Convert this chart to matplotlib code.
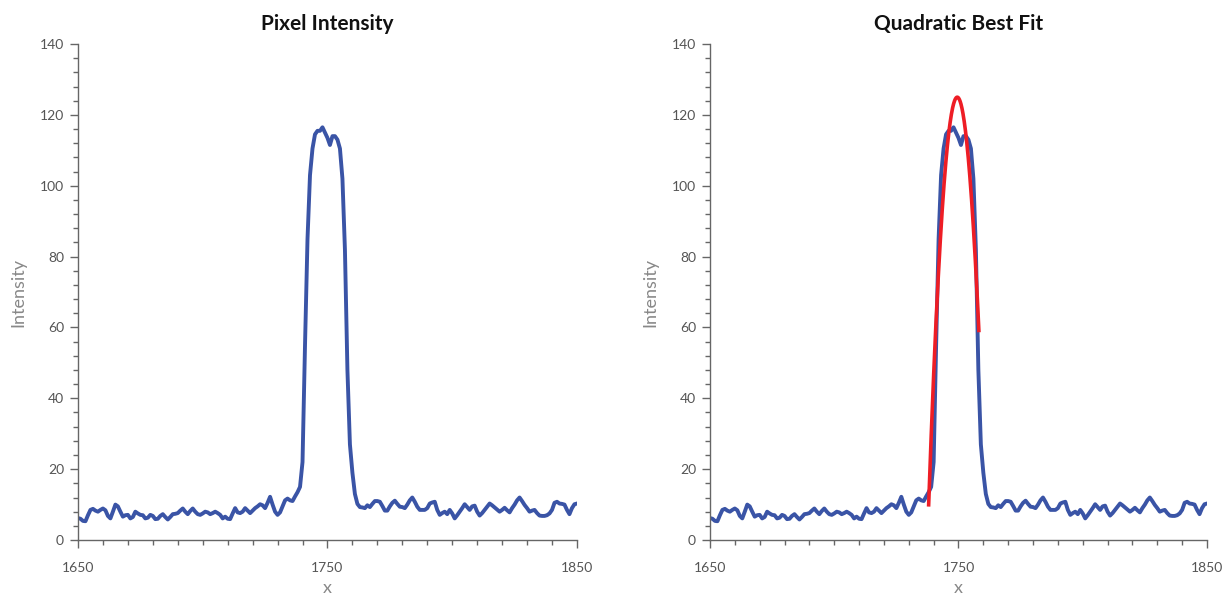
import numpy as np
import matplotlib
matplotlib.use("Agg")
import matplotlib.pyplot as plt
from matplotlib.ticker import MultipleLocator, FixedLocator

# pixel position along the row and intensity
x = np.arange(1650, 1851)
intensity = [
    6.2, 6.0, 5.4, 5.3, 7.0, 8.5, 8.8, 8.3, 8.0, 8.5,
    8.9, 8.4, 6.8, 6.1, 8.0, 10.0, 9.5, 8.0, 6.6, 7.0,
    7.1, 6.1, 6.5, 8.0, 7.5, 7.1, 7.0, 6.1, 6.3, 7.1,
    6.8, 5.9, 6.0, 6.8, 7.3, 6.5, 5.8, 6.5, 7.3, 7.4,
    7.6, 8.3, 8.9, 8.0, 7.3, 8.2, 8.9, 8.0, 7.3, 7.1,
    7.5, 8.0, 7.8, 7.3, 7.6, 8.0, 7.6, 7.1, 6.1, 6.6,
    6.0, 5.9, 7.5, 9.0, 7.8, 7.6, 8.0, 9.0, 8.3, 7.6,
    8.3, 9.0, 9.5, 10.1, 9.8, 9.0, 10.5, 12.2, 10.0, 8.0,
    7.1, 7.8, 9.5, 11.2, 11.7, 11.2, 11.0, 12.3, 13.5, 15.0,
    22.0, 55.0, 85.0, 103.0, 110.5, 114.5, 115.5, 115.5, 116.5, 115.0,
    113.5, 111.5, 114.0, 114.0, 113.0, 110.5, 102.0, 82.0, 48.0, 27.0,
    19.0, 13.0, 10.2, 9.3, 9.2, 9.0, 9.8, 9.3, 10.2, 11.0,
    11.0, 10.8, 9.6, 8.3, 8.3, 9.5, 10.5, 11.1, 10.2, 9.4,
    9.3, 9.0, 10.0, 11.2, 12.0, 10.8, 9.4, 8.5, 8.5, 8.5,
    9.0, 10.3, 10.6, 10.8, 8.5, 7.1, 7.6, 8.0, 7.3, 8.5,
    7.5, 6.1, 7.0, 8.0, 9.0, 10.1, 9.3, 8.5, 9.5, 9.7,
    8.0, 6.9, 7.6, 8.5, 9.4, 10.3, 9.8, 9.2, 8.6, 8.0,
    8.5, 9.1, 8.4, 7.8, 9.0, 10.0, 11.2, 12.0, 11.0, 9.9,
    9.0, 8.0, 8.3, 8.5, 7.6, 6.9, 6.8, 6.8, 7.0, 7.5,
    8.5, 10.5, 10.8, 10.3, 10.2, 10.0, 8.5, 7.3, 9.0, 10.1,
    10.3,
]
x_ticks = [1650, 1750, 1850]

# quadratic: peak position, peak height, curvature
fit_start, fit_end = 1738, 1758.2
fit_peak_x, fit_peak_y, fit_curv = 1749.5, 125.0, 0.87

BLUE = "#3a54a6"
RED = "#ee1d25"
AXIS = "#666666"

plt.rcParams['font.family'] = ['Lato', 'DejaVu Sans']


def style_axes(ax, title):
    ax.set_xlim(1650, 1850)
    ax.set_ylim(0, 140)
    ax.spines['top'].set_visible(False)
    ax.spines['right'].set_visible(False)
    for s in ('left', 'bottom'):
        ax.spines[s].set_color(AXIS)
        ax.spines[s].set_linewidth(1.0)
    ax.xaxis.set_major_locator(FixedLocator(x_ticks))
    ax.xaxis.set_minor_locator(MultipleLocator(10))
    ax.yaxis.set_major_locator(MultipleLocator(20))
    ax.yaxis.set_minor_locator(MultipleLocator(4))
    ax.tick_params(which='major', length=6, width=1, color=AXIS,
                   labelcolor="#555555", labelsize=10, pad=4)
    ax.tick_params(axis='x', which='major', pad=10)
    ax.tick_params(which='minor', length=3.5, width=1, color=AXIS)
    ax.set_xlabel("x", color="#888888", fontsize=13, labelpad=4)
    ax.set_ylabel("Intensity", color="#888888", fontsize=13, labelpad=10)
    ax.set_title(title, fontsize=15, fontweight='bold', color="#111111", pad=10)


def main():
    fig = plt.figure(figsize=(12.26, 5.95), dpi=100)
    ax1 = fig.add_axes([0.0636, 0.0924, 0.407, 0.8336])
    ax2 = fig.add_axes([0.5791, 0.0924, 0.4054, 0.8336])

    ax1.plot(x, intensity, color=BLUE, lw=2.8, solid_joinstyle='round')
    style_axes(ax1, "Pixel Intensity")

    ax2.plot(x, intensity, color=BLUE, lw=2.8, solid_joinstyle='round')
    xf = np.linspace(fit_start, fit_end, 200)
    yf = fit_peak_y - fit_curv * (xf - fit_peak_x) ** 2
    ax2.plot(xf, yf, color=RED, lw=2.6)
    style_axes(ax2, "Quadratic Best Fit")

    fig.savefig("out.png", dpi=100)


if __name__ == '__main__':
    main()
